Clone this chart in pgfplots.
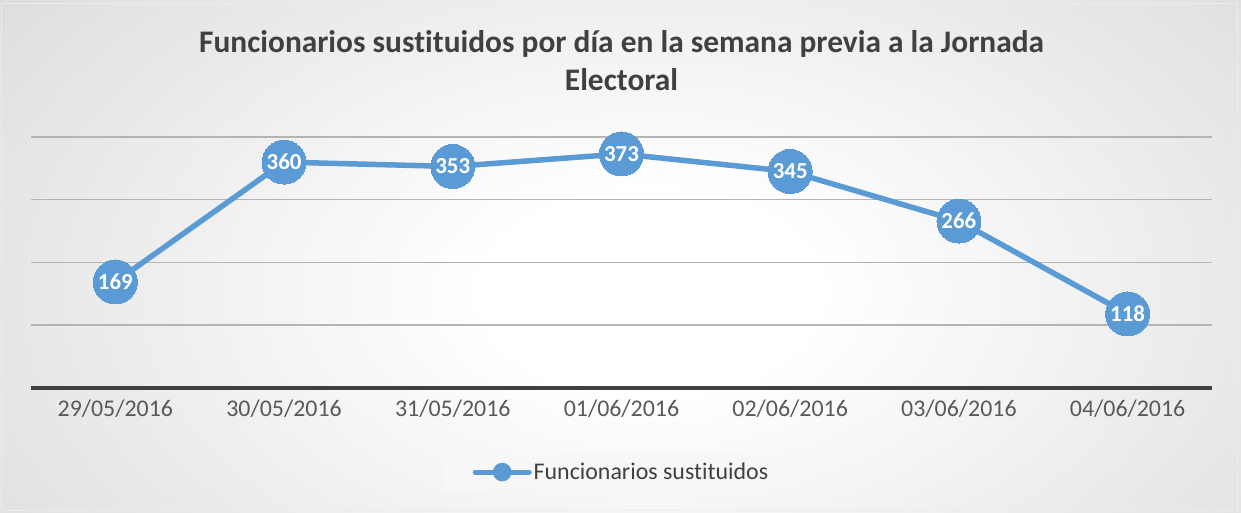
\documentclass[border=0pt]{standalone}
\usepackage{pgfplots}
\pgfplotsset{compat=1.18}
\usepackage{fontspec}
\setmainfont[Ligatures=NoCommon]{Carlito}
\definecolor{bggray}{HTML}{C4C4C4}
\definecolor{serieblue}{HTML}{5B9BD5}
\definecolor{titlegray}{HTML}{404040}
\definecolor{tickgray}{HTML}{595959}
\definecolor{gridgray}{HTML}{B4B4B4}
\definecolor{legfill}{HTML}{F7F7F7}
\pgfdeclareradialshading{bgshade}{\pgfpoint{0bp}{0bp}}{color(0bp)=(white); color(6bp)=(white); color(47bp)=(bggray); color(100bp)=(bggray)}
\begin{document}
\begin{tikzpicture}
\path[use as bounding box] (0,0) rectangle (1241bp,513bp);
\begin{scope}
\clip (0,0) rectangle (1241bp,513bp);
\shade[shading=bgshade] (-50bp,-200bp) rectangle (1350bp,640bp);
\end{scope}
\draw[color=white!85!gray, line width=1bp] (1bp,2bp) rectangle (1237bp,509bp);
\begin{axis}[
  at={(31bp,125bp)}, anchor=south west,
  scale only axis, width=1181bp, height=251bp,
  xmin=-0.5, xmax=6.5, ymin=0, ymax=400,
  clip=false,
  axis line style={draw=none},
  /pgf/number format/assume math mode=true,
  xtick={0,1,2,3,4,5,6},
  xticklabels={29/05/2016,30/05/2016,31/05/2016,01/06/2016,02/06/2016,03/06/2016,04/06/2016},
  x tick label style={font=\fontsize{24}{28}\selectfont, text=tickgray, yshift=-8bp},
  ytick={100,200,300,400}, yticklabels={},
  ymajorgrids, grid style={gridgray, line width=1.5bp},
  extra y ticks={0}, extra y tick labels={},
  extra y tick style={grid style={titlegray, line width=4bp}},
  major tick length=0pt,
  title={Funcionarios sustituidos por día en la semana previa a la Jornada\\Electoral},
  title style={align=center, font=\fontsize{31.5}{38}\selectfont\bfseries, text=titlegray, at={(axis description cs:0.5,1.279)}, anchor=center},
  legend style={at={(axis description cs:0.5,-0.335)}, anchor=center, draw=none, fill=legfill, inner xsep=30bp, inner ysep=7bp, font=\fontsize{24}{28}\selectfont, text=titlegray},
  legend image code/.code={\draw[serieblue, line width=5bp, line cap=round] (0bp,0bp) -- (54bp,0bp); \fill[serieblue] (27bp,0bp) circle (6.5bp);},
]
\addplot[serieblue, line width=5.5bp, mark=*, mark size=22bp, mark options={fill=serieblue, draw=serieblue, line width=0pt},
  nodes near coords, every node near coord/.append style={anchor=center, text=white, font=\fontsize{23}{23}\selectfont\bfseries}]
  coordinates {(0,169) (1,360) (2,353) (3,373) (4,345) (5,266) (6,118)};
\addlegendentry{Funcionarios sustituidos}
\end{axis}
\end{tikzpicture}
\end{document}
